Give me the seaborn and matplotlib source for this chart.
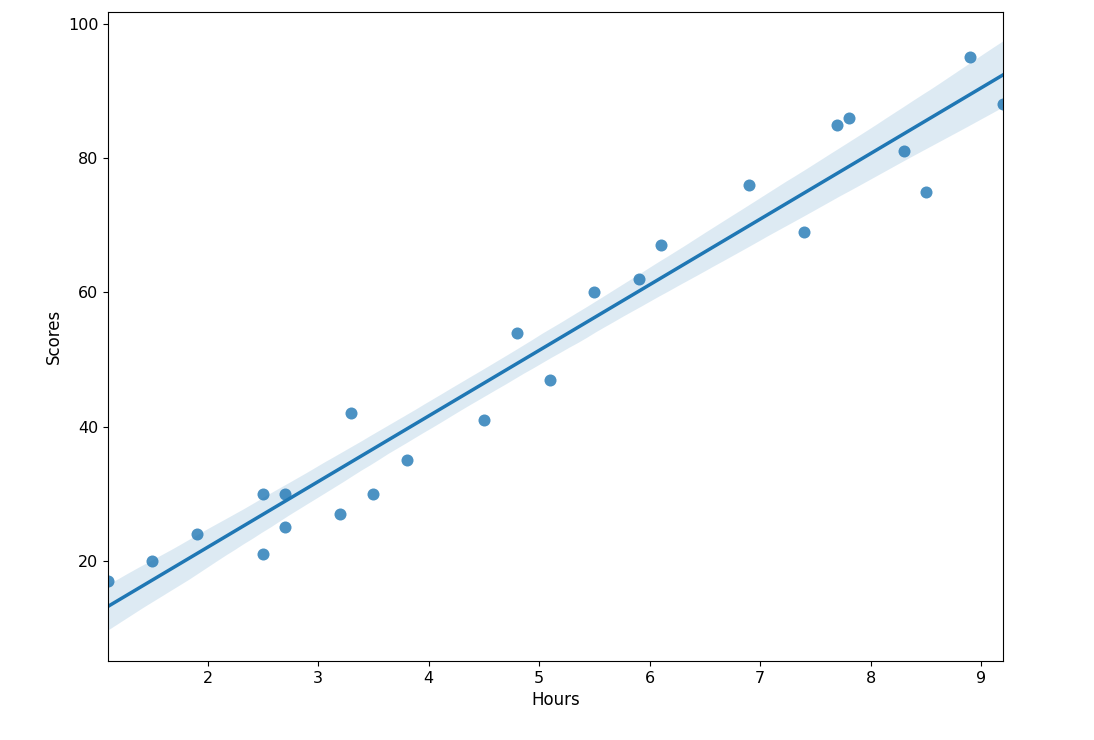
import numpy as np
import pandas as pd
import matplotlib
matplotlib.use("Agg")
import matplotlib.pyplot as plt
import seaborn as sns

hours = [2.5, 5.1, 3.2, 8.5, 3.5, 1.5, 9.2, 5.5, 8.3, 2.7, 7.7, 5.9, 4.5,
         3.3, 1.1, 8.9, 2.5, 1.9, 6.1, 7.4, 2.7, 4.8, 3.8, 6.9, 7.8]
scores = [21, 47, 27, 75, 30, 20, 88, 60, 81, 25, 85, 62, 41,
          42, 17, 95, 30, 24, 67, 69, 30, 54, 35, 76, 86]

df = pd.DataFrame({"Hours": hours, "Scores": scores})

fig = plt.figure(figsize=(10.94, 7.40), dpi=100)
ax = fig.add_axes([0.099, 0.107, 0.818, 0.877])
sns.regplot(data=df, x="Hours", y="Scores", ax=ax, seed=0,
            scatter_kws={"s": 75, "linewidths": 0}, line_kws={"linewidth": 2.5})
ax.set_xlim(min(hours), max(hours))
ax.set_ylim(5.1, 101.8)
ax.set_xlabel("Hours", fontsize=12)
ax.set_ylabel("Scores", fontsize=12)
ax.tick_params(labelsize=11.5)
plt.savefig("out.png", dpi=100)
